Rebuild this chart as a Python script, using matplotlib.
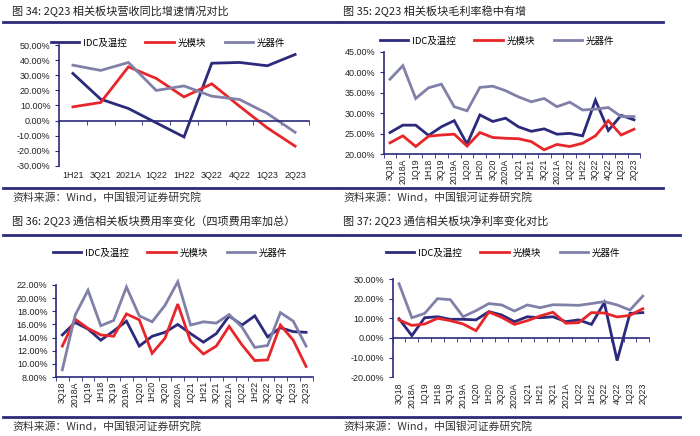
import matplotlib
matplotlib.use("Agg")
import matplotlib.pyplot as plt
from matplotlib.lines import Line2D

plt.rcParams['font.family'] = ['Noto Sans CJK SC', 'DejaVu Sans']

NAVY = '#2B2A7C'
RED = '#E8262A'
GRAY = '#8080A8'
TXT = '#222222'

series_names = ['IDC及温控', '光模块', '光器件']

# ---- chart 34 ----
cats34 = ['1H21', '3Q21', '2021A', '1Q22', '1H22', '3Q22', '4Q22', '1Q23', '2Q23']
idc34 = [31.3, 14.2, 8.0, -1.5, -10.9, 38.1, 38.6, 36.4, 43.9]
mod34 = [9.1, 12.0, 35.7, 28.0, 15.7, 24.4, 9.5, -4.9, -17.0]
dev34 = [36.8, 33.3, 38.6, 20.0, 23.0, 16.2, 14.0, 4.7, -7.8]

# ---- shared quarterly categories ----
cats_q = ['3Q18', '2018A', '1Q19', '1H18', '3Q19', '2019A', '1Q20', '1H20', '3Q20', '2020A',
          '1Q21', '1H21', '3Q21', '2021A', '1Q22', '1H22', '3Q22', '4Q22', '1Q23', '2Q23']

# ---- chart 35 gross margin ----
idc35 = [25.3, 27.1, 27.1, 24.6, 26.7, 28.2, 22.5, 29.6, 28.0, 28.8,
         26.7, 25.6, 26.2, 24.9, 25.1, 24.5, 33.2, 25.8, 29.5, 28.4]
mod35 = [22.8, 24.5, 21.9, 24.4, 24.7, 24.9, 22.0, 25.3, 24.1, 23.9,
         23.8, 23.1, 21.1, 22.4, 21.9, 22.7, 24.5, 28.2, 24.7, 26.1]
dev35 = [38.3, 41.6, 33.6, 36.2, 37.1, 31.6, 30.6, 36.3, 36.6, 35.5,
         34.0, 32.8, 33.6, 31.6, 32.7, 30.8, 31.0, 31.4, 29.2, 29.2]

# ---- chart 36 expense ratio ----
idc36 = [14.4, 16.3, 15.3, 13.6, 15.0, 16.5, 12.7, 14.2, 14.8, 16.0,
         14.6, 13.3, 14.6, 17.3, 15.9, 17.3, 14.1, 15.5, 14.9, 14.8]
mod36 = [12.7, 16.8, 15.4, 14.4, 14.2, 17.6, 16.7, 11.6, 13.9, 19.1,
         13.4, 11.5, 12.7, 15.7, 12.9, 10.5, 10.6, 15.9, 13.6, 9.6]
dev36 = [9.1, 17.4, 21.2, 15.8, 16.6, 21.7, 17.3, 16.4, 18.9, 22.5,
         15.9, 16.4, 16.2, 17.5, 15.6, 12.5, 12.8, 17.8, 16.5, 12.7]

# ---- chart 37 net margin ----
idc37 = [9.8, 1.2, 10.3, 10.8, 9.5, 9.5, 9.2, 13.4, 11.7, 8.3,
         10.8, 10.3, 10.8, 8.3, 9.2, 6.9, 18.0, -11.5, 12.5, 12.9]
mod37 = [9.2, 6.4, 7.1, 10.0, 8.8, 7.1, 3.7, 13.2, 10.5, 6.9,
         8.8, 11.2, 13.1, 7.5, 7.8, 12.9, 12.7, 10.7, 11.5, 14.9]
dev37 = [27.6, 10.3, 12.5, 20.0, 19.5, 10.8, 13.9, 17.5, 16.8, 13.7,
         16.8, 15.4, 16.9, 16.8, 16.6, 17.5, 18.5, 16.8, 14.2, 21.3]

titles = ['图 34: 2Q23 相关板块营收同比增速情况对比',
          '图 35: 2Q23 相关板块毛利率稳中有增',
          '图 36: 2Q23 通信相关板块费用率变化（四项费用率加总）',
          '图 37: 2Q23 通信相关板块净利率变化对比']
source = '资料来源：Wind，中国银河证券研究院'

W, H = 700, 436
fig = plt.figure(figsize=(W / 100, H / 100), dpi=100)


def rect(l, t, r, b):
    return [l / W, 1 - b / H, (r - l) / W, (b - t) / H]


def hline(x0, x1, y, lw=2.0):
    fig.add_artist(Line2D([x0 / W, x1 / W], [1 - y / H, 1 - y / H], color=NAVY, lw=lw,
                          transform=fig.transFigure))


def ftext(x, y, s, **kw):
    fig.text(x / W, 1 - y / H, s, va='center', ha='left', **kw)


def panel(r, cats, data, ylim, yticks, zero_axis, rotate, legend_xy):
    ax = fig.add_axes(rect(*r))
    n = len(cats)
    x = list(range(n))
    cols = [NAVY, RED, GRAY]
    lines = []
    for vals, c, name in zip(data, cols, series_names):
        ln, = ax.plot(x, vals, color=c, lw=2.0, label=name, clip_on=False,
                      solid_joinstyle='miter')
        lines.append(ln)
    ax.set_xlim(-0.5, n - 0.5)
    ax.set_ylim(*ylim)
    for s in ['top', 'right']:
        ax.spines[s].set_visible(False)
    ax.spines['left'].set_color(NAVY)
    ax.spines['left'].set_linewidth(1.2)
    ax.spines['bottom'].set_color(NAVY)
    ax.spines['bottom'].set_linewidth(1.2)
    ax.set_yticks(yticks)
    ax.set_yticklabels([f'{v:.2f}%' for v in yticks], fontsize=6.5,
                       family=['Liberation Sans'], color=TXT)
    ax.tick_params(axis='y', direction='out', length=3, color=NAVY, pad=3)
    ax.set_xticks([i + 0.5 for i in range(-1, n)], minor=True)
    ax.tick_params(axis='x', which='minor', direction='out', length=3, color=NAVY)
    lab_kw = dict(fontsize=6.3 if rotate else 6.5, family=['Liberation Sans'], color=TXT)
    if zero_axis:
        ax.spines['bottom'].set_position(('data', 0))
        ax.set_xticks(x)
        ax.set_xticklabels([''] * n)
        ax.tick_params(axis='x', which='major', length=0)
        sec = ax.secondary_xaxis('bottom')
        sec.set_xticks(x)
        sec.set_xticklabels(cats, rotation=90 if rotate else 0, **lab_kw)
        sec.tick_params(length=0, pad=4)
        sec.spines['bottom'].set_visible(False)
    else:
        ax.set_xticks(x)
        ax.set_xticklabels(cats, rotation=90 if rotate else 0, **lab_kw)
        ax.tick_params(axis='x', which='major', length=0, pad=3)
    ax.patch.set_alpha(0)
    fig.legend(handles=lines, loc='center',
               bbox_to_anchor=(legend_xy[0] / W, 1 - legend_xy[1] / H),
               ncol=3, frameon=False, handlelength=3.0, handletextpad=0.4,
               columnspacing=2.0, prop={'size': 6.8, 'family': ['Noto Sans CJK SC', 'DejaVu Sans']})
    return ax


panel((59, 45.3, 309, 165.7), cats34, [idc34, mod34, dev34], (-30, 50),
      list(range(-30, 51, 10)), True, False, (168, 43))
panel((383.6, 51.7, 640.4, 154.3), cats_q, [idc35, mod35, dev35], (20, 45),
      list(range(20, 46, 5)), False, True, (497, 41))
panel((55.9, 285, 312.5, 377), cats_q, [idc36, mod36, dev36], (8, 22),
      list(range(8, 23, 2)), False, True, (170, 253))
panel((392.6, 279, 649.2, 377.3), cats_q, [idc37, mod37, dev37], (-20, 30),
      list(range(-20, 31, 10)), True, True, (503, 253))

# titles, rules, sources
tkw = dict(fontsize=8, color=TXT)
skw = dict(fontsize=7.8, color='#333333', style='italic')
ftext(12, 11, titles[0], **tkw)
ftext(343, 11, titles[1], **tkw)
ftext(12, 221, titles[2], **tkw)
ftext(343, 221, titles[3], **tkw)
hline(3, 340, 22.5)
hline(342, 663, 22.5)
hline(3, 340, 235.5)
hline(342, 680, 235.5)
hline(3, 340, 188)
hline(342, 663, 188)
hline(3, 340, 417)
hline(342, 680, 417)
ftext(12, 197, source, **skw)
ftext(343, 197, source, **skw)
ftext(12, 426, source, **skw)
ftext(343, 426, source, **skw)

fig.savefig('out.png', dpi=100)
